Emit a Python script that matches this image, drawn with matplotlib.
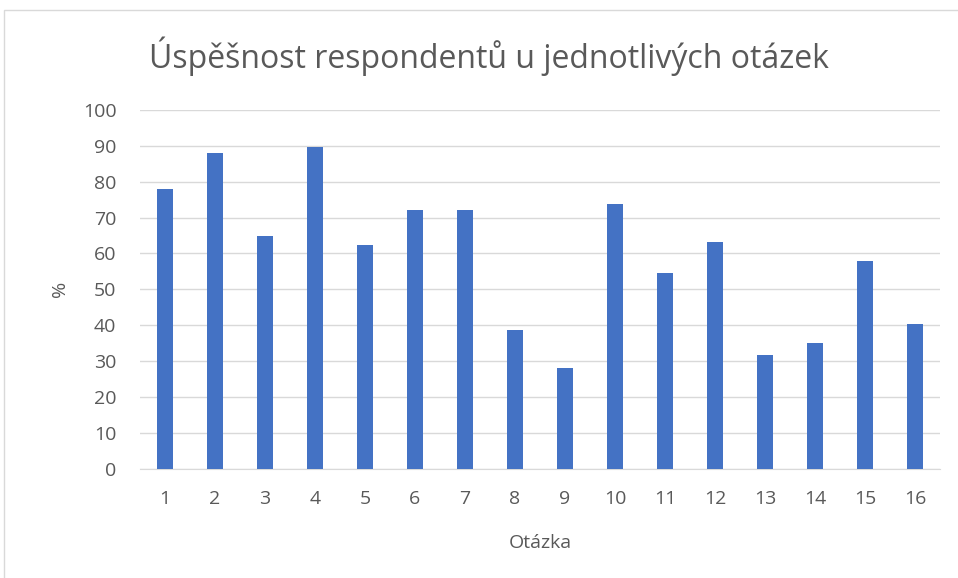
import matplotlib
matplotlib.use("Agg")
import matplotlib.pyplot as plt
from matplotlib.patches import Rectangle

questions = [str(i) for i in range(1, 17)]
success = [78.1, 87.9, 65.0, 89.7, 62.4, 72.1, 72.1, 38.7, 28.1, 73.9, 54.5, 63.3, 31.7, 35.1, 58.0, 40.4]
yticks = [0, 10, 20, 30, 40, 50, 60, 70, 80, 90, 100]

plt.rcParams['font.family'] = ['Open Sans', 'DejaVu Sans']
txt = '#595959'

fig = plt.figure(figsize=(9.58, 5.78), dpi=100)
W, H = 958, 578
fig.patches.append(Rectangle((4 / W, -0.1), 1.0, 1.1 - 10 / H, transform=fig.transFigure,
                             fill=False, edgecolor='#D9D9D9', linewidth=1.0))

ax = fig.add_axes([140 / W, 1 - 468.7 / H, 800 / W, (468.7 - 110) / H])
x = list(range(len(questions)))
ax.bar(x, success, width=0.32, color='#4472C4', zorder=3)
ax.set_xlim(-0.5, len(questions) - 0.5)
ax.set_ylim(0, 100)
ax.set_yticks(yticks)
ax.set_xticks(x)
ax.set_xticklabels(questions)
ax.grid(axis='y', color='#D9D9D9', linewidth=1.0, zorder=0)
for s in ['top', 'right', 'left']:
    ax.spines[s].set_visible(False)
ax.spines['bottom'].set_color('#D9D9D9')
ax.tick_params(axis='both', length=0, colors=txt, labelsize=14)
ax.tick_params(axis='y', pad=17)
ax.tick_params(axis='x', pad=15)
ax.set_xlabel('Otázka', color=txt, fontsize=14, labelpad=19)
ax.set_ylabel('%', color=txt, fontsize=14, labelpad=10)
fig.text(489 / W, 1 - 56 / H, 'Úspěšnost respondentů u jednotlivých otázek',
         ha='center', va='center', color=txt, fontsize=23)

fig.savefig('out.png', dpi=100, facecolor='white')
